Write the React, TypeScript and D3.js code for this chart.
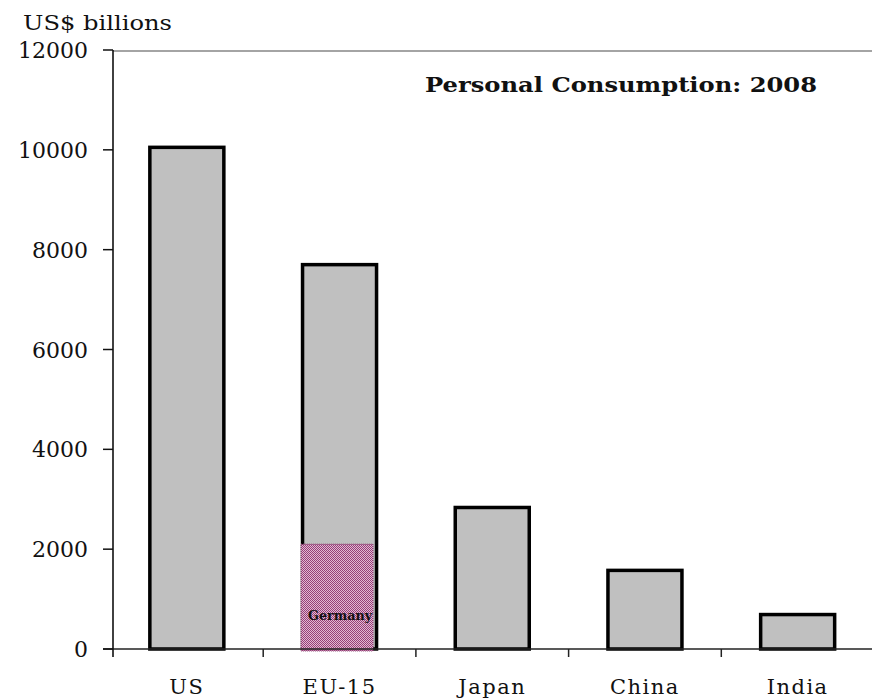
import React from "react";
import * as d3 from "d3";

const categories = ["US", "EU-15", "Japan", "China", "India"];
const consumption = [10050, 7700, 2835, 1575, 690];
const germanyLabel = "Germany";
const germanyValue = 2100;
const germanyCategory = "EU-15";
const yTicks = [0, 2000, 4000, 6000, 8000, 10000, 12000];
const yUnitLabel = "US$ billions";
const chartTitle = "Personal Consumption: 2008";

const W = 872;
const H = 699;

export default function App() {
  const x = d3.scaleBand<string>().domain(categories).range([110.5, 874]).padding(0);
  const y = d3.scaleLinear().domain([0, 12000]).range([649, 50]);
  const step = x.step();
  const barW = 74;
  const axisX = 113;
  const baseY = y(0);
  const serif = "'DejaVu Serif', 'Liberation Serif', serif";

  const gx = x(germanyCategory)! + step / 2 - barW / 2 - 1.5;

  return (
    <svg
      width={W}
      height={H}
      style={{ position: "absolute", left: 0, top: 0, background: "#fff" }}
      xmlns="http://www.w3.org/2000/svg"
    >
      <defs>
        <pattern id="germanyPat" width="2" height="2" patternUnits="userSpaceOnUse">
          <rect width="2" height="2" fill="#e2b9d2" />
          <rect x="0" y="0" width="1" height="1" fill="#953f78" />
          <rect x="1" y="1" width="1" height="1" fill="#953f78" />
        </pattern>
      </defs>

      {/* top border */}
      <line x1={axisX} x2={W} y1={51} y2={51} stroke="#a4a4a4" strokeWidth={2} />

      {/* bars */}
      {categories.map((c, i) => {
        const cx = x(c)! + step / 2;
        return (
          <rect
            key={c}
            x={cx - barW / 2}
            y={y(consumption[i])}
            width={barW}
            height={baseY - y(consumption[i])}
            fill="#c0c0c0"
            stroke="#000"
            strokeWidth={3.5}
          />
        );
      })}

      {/* Germany overlay */}
      <rect
        x={gx}
        y={y(germanyValue)}
        width={barW - 2}
        height={baseY - y(germanyValue) + 2}
        fill="url(#germanyPat)"
        stroke="#8a3a6e"
        strokeWidth={1}
        strokeDasharray="1 1"
      />
      <text
        x={gx + (barW - 2) / 2 + 3}
        y={620}
        textAnchor="middle"
        fontFamily={serif}
        fontSize={12}
        fontWeight="bold"
        fill="#111"
        textLength={64}
        lengthAdjust="spacingAndGlyphs"
      >
        {germanyLabel}
      </text>

      {/* x axis */}
      <line x1={103} x2={W} y1={baseY} y2={baseY} stroke="#222" strokeWidth={1.5} />
      {categories.slice(1).map((c) => (
        <line key={"t" + c} x1={x(c)!} x2={x(c)!} y1={baseY} y2={baseY + 8} stroke="#222" strokeWidth={1.5} />
      ))}
      {categories.map((c) => (
        <text
          key={"l" + c}
          x={x(c)! + step / 2}
          y={694}
          textAnchor="middle"
          fontFamily={serif}
          fontSize={21}
          letterSpacing={1.5}
          fill="#111"
        >
          {c}
        </text>
      ))}

      {/* y axis */}
      <line x1={axisX} x2={axisX} y1={50} y2={657} stroke="#111" strokeWidth={1.6} />
      {yTicks.map((t) => (
        <g key={"y" + t}>
          <line x1={103} x2={axisX} y1={y(t)} y2={y(t)} stroke="#111" strokeWidth={1.5} />
          <text
            x={88}
            y={y(t) + 8}
            textAnchor="end"
            fontFamily={serif}
            fontSize={22}
            fill="#111"
          >
            {t}
          </text>
        </g>
      ))}

      {/* unit label */}
      <text
        x={23}
        y={30}
        fontFamily={serif}
        fontSize={21}
        fill="#111"
        textLength={149}
        lengthAdjust="spacingAndGlyphs"
      >
        {yUnitLabel}
      </text>

      {/* title */}
      <text
        x={425}
        y={92}
        fontFamily={serif}
        fontSize={21}
        fontWeight="bold"
        fill="#111"
        textLength={392}
        lengthAdjust="spacingAndGlyphs"
      >
        {chartTitle}
      </text>
    </svg>
  );
}
